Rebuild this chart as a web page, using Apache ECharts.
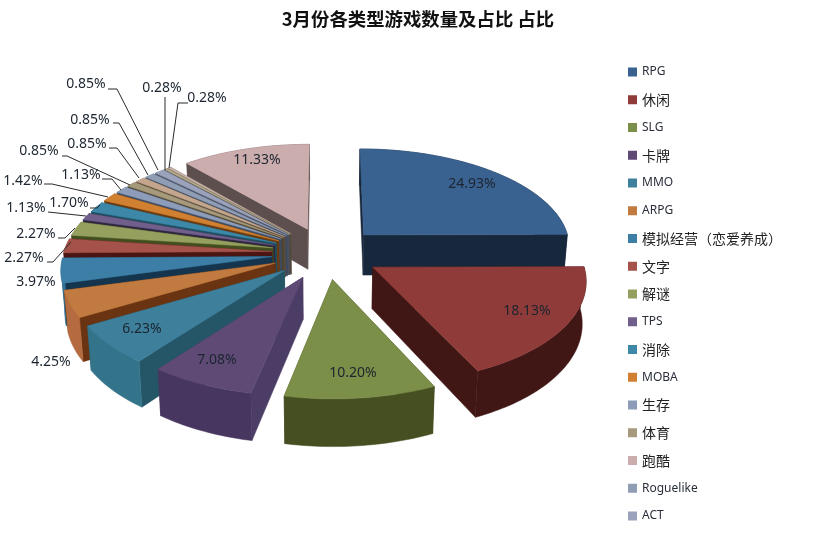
<!DOCTYPE html>
<html><head><meta charset="utf-8">
<style>html,body{margin:0;padding:0;background:#fff}#c{width:819px;height:549px}</style>
<script src="https://cdn.jsdelivr.net/npm/echarts@6/dist/echarts.min.js"></script>
</head><body><div id="c"></div>
<script>
const sliceNames = ['RPG','休闲','SLG','卡牌','MMO','ARPG','模拟经营（恋爱养成）','文字','解谜','TPS','消除','MOBA','生存','体育','其他1','Roguelike','ACT','其他2','其他3','跑酷'];
const sliceValues = [24.93,18.13,10.20,7.08,6.23,4.25,3.97,2.27,2.27,1.13,1.70,1.42,1.13,0.85,0.85,0.85,0.85,0.28,0.28,11.33];
const legendNames = ['RPG','休闲','SLG','卡牌','MMO','ARPG','模拟经营（恋爱养成）','文字','解谜','TPS','消除','MOBA','生存','体育','跑酷','Roguelike','ACT'];
const topColors = ['#3a6290','#8f3b39','#7b8f48','#5e4a75','#3e7f9b','#c17a3f','#3c7ea6','#a5534a','#96a05e','#6f5f8a','#3d88a8','#d08030','#8d9db9','#a79a7c','#c4a68e','#8f9db5','#9aa3bb','#b4a98c','#c9b3a8','#ccadae'];
const radialColors = ['#18283c','#401715','#424a20','#4c3d66','#245668','#6a3311','#15344d','#4a1512','#424e1e','#2f2640','#1c4f60','#6a3a10','#3e4a60','#4d4533','#5a4c38','#3e4a60','#4a5060','#504a3a','#5a4c44','#5e4f4f'];
const outerColors = ['#18283c','#401715','#464f22','#47365f','#34748a','#b56b40','#2f7596','#8c4038','#7a8548','#5c4e74','#2f7596','#a86a2c','#76849c','#8a8068','#a08a76','#76849c','#8a90a4','#948c74','#a89488','#6a5a5a'];

// Hand placed labels, as in the source chart: [text centre x, y], then leader polyline
const labelPlaces = [
 {at:[472,184]},{at:[527,311]},{at:[353,373]},{at:[217,360]},{at:[142,329]},{at:[51,362]},{at:[36,282]},
 {at:[24,258],line:[[47,262],[53,262],[71,242]]},
 {at:[36,234],line:[[58,238],[65,238],[75,228]]},
 {at:[26,208],line:[[48,212],[86,216]]},
 {at:[69,203],line:[[90,208],[97,208],[100,205]]},
 {at:[23,181],line:[[44,184],[52,184],[108,197]]},
 {at:[81,175],line:[[102,179],[112,179],[121,190]]},
 {at:[39,151],line:[[62,156],[67,156],[130,185]]},
 {at:[87,144],line:[[109,148],[117,148],[139,178]]},
 {at:[90,120],line:[[113,123],[119,123],[148,175]]},
 {at:[86,84],line:[[108,89],[117,89],[158,170]]},
 {at:[162,88],line:[[165,97],[165,170]]},
 {at:[207,98],line:[[188,103],[178,103],[169,168]]},
 {at:[257,160]}
];

// 3D pie view: centre, radii, perspective, explosion, thickness
const view = {cx:326, cy:253, rx:208, ry:99.4, persp:0.112, explode:0.262, thick:41, shrink:0.985};
function project(X, Y, down) {
  const s = 1 / (1 - view.persp * Y);
  const x = view.rx * X * s, y = view.ry * Y * s;
  return down ? [view.cx + x * view.shrink, view.cy + y + view.thick * s] : [view.cx + x, view.cy + y];
}
const total = sliceValues.reduce((a, b) => a + b, 0);
let run = 0;
const slices = sliceValues.map((v, i) => {
  const a0 = run / total * 2 * Math.PI; run += v;
  const a1 = run / total * 2 * Math.PI, mid = (a0 + a1) / 2;
  return {i, a0, a1, ax: view.explode * Math.sin(mid), ay: -view.explode * Math.cos(mid), depth: -Math.cos(mid)};
});
function sliceShapes(sl) {
  const n = Math.max(3, Math.ceil((sl.a1 - sl.a0) / 0.02));
  const world = [];
  for (let k = 0; k <= n; k++) {
    const t = sl.a0 + (sl.a1 - sl.a0) * k / n;
    world.push([sl.ax + Math.sin(t), sl.ay - Math.cos(t)]);
  }
  const top = world.map(w => project(w[0], w[1], false));
  const bot = world.map(w => project(w[0], w[1], true));
  const at = project(sl.ax, sl.ay, false), ab = project(sl.ax, sl.ay, true);
  const last = top.length - 1;
  const faces = [
    {pts:[at, top[0], bot[0], ab], fill:radialColors[sl.i], d:(sl.ay + world[0][1]) / 2},
    {pts:[at, top[last], bot[last], ab], fill:radialColors[sl.i], d:(sl.ay + world[last][1]) / 2},
    {pts:top.concat(bot.slice().reverse()), fill:outerColors[sl.i], d:world[n >> 1][1]}
  ].sort((p, q) => p.d - q.d);
  const children = faces.map(f => ({type:'polygon', shape:{points:f.pts}, style:{fill:f.fill, stroke:f.fill, lineWidth:0.5}}));
  children.push({type:'polygon', shape:{points:[at].concat(top)}, style:{fill:topColors[sl.i], stroke:topColors[sl.i], lineWidth:0.5}});
  return children;
}
const order = slices.slice().sort((p, q) => p.depth - q.depth);
const series = order.map(sl => ({
  type:'custom', name:sliceNames[sl.i], coordinateSystem:'none', silent:true, animation:false,
  itemStyle:{color:topColors[sl.i]},
  data:[sliceValues[sl.i]],
  renderItem:() => ({type:'group', children:sliceShapes(sl)})
}));
series.push({
  type:'custom', name:'labels', coordinateSystem:'none', silent:true, animation:false, z:50,
  data:sliceValues,
  renderItem:(p, api) => {
    const v = api.value(0), pl = labelPlaces[p.dataIndex], ch = [];
    if (pl.line) ch.push({type:'polyline', shape:{points:pl.line}, style:{fill:'none', stroke:'#2b2b2b', lineWidth:1}});
    ch.push({type:'text', style:{x:pl.at[0], y:pl.at[1], text:v.toFixed(2) + '%', align:'center', verticalAlign:'middle',
      fontFamily:'"Noto Sans"', fontSize:14, fill:'#1c2530'}});
    return {type:'group', children:ch};
  }
});
const chart = echarts.init(document.getElementById('c'), null, {renderer:'canvas'});
chart.setOption({
  animation:false, backgroundColor:'#fff',
  title:{text:'3月份各类型游戏数量及占比 占比', left:413, top:5, textAlign:'center',
    textStyle:{fontFamily:'"Noto Sans CJK SC"', fontSize:18.4, fontWeight:'bold', color:'#111'}},
  legend:{orient:'vertical', left:628, top:62, padding:0, data:legendNames, selectedMode:false, itemWidth:9, itemHeight:9, itemGap:7.75,
    icon:'rect',
    formatter:n => /^[A-Za-z]+$/.test(n) ? '{l|' + n + '}' : '{c|' + n + '}',
    textStyle:{rich:{l:{fontFamily:'"Noto Sans"', fontSize:12, height:20, lineHeight:20, color:'#2a2f3a'},
                     c:{fontFamily:'"Noto Sans CJK SC"', fontSize:14, height:20, lineHeight:20, color:'#222'}}}},
  series
});
</script></body></html>
